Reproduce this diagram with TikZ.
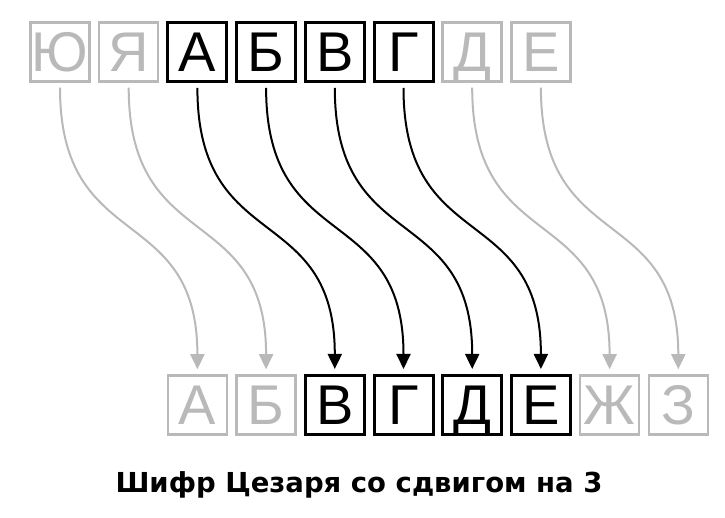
\documentclass[tikz,border=0pt]{standalone}
\usepackage{fontspec}
\newfontfamily\letterfont{Liberation Sans}
\newfontfamily\titlefont{DejaVu Sans}
\usetikzlibrary{arrows.meta}
\definecolor{fadegray}{RGB}{185,185,185}

\begin{document}
\begin{tikzpicture}[x=1pt, y=1pt, >={Triangle[length=15pt, width=14pt]},
		box/.style={draw, line width=3pt, minimum size=59pt, inner sep=0pt, text height=40pt, text depth=0pt, font=\letterfont\fontsize{56}{56}\selectfont},
		keybox/.style={box, draw=black, text=black},
		fadebox/.style={box, draw=fadegray, text=fadegray, line width=2.5pt},
		keyshift/.style={->, line width=2pt, black},
		fadeshift/.style={->, line width=2pt, fadegray}]
	\useasboundingbox (0,0) rectangle (725,518);
	
	% 1. 原字母表 (上排)
	\node[fadebox] (t-yu) at (60, 466) {Ю};
	\node[fadebox] (t-ya) at (128.7, 466) {Я};
	\node[keybox] (t-a) at (197.4, 466) {А};
	\node[keybox] (t-b) at (266.1, 466) {Б};
	\node[keybox] (t-v) at (334.8, 466) {В};
	\node[keybox] (t-g) at (403.5, 466) {Г};
	\node[fadebox] (t-d) at (472.2, 466) {Д};
	\node[fadebox] (t-e) at (540.9, 466) {Е};
	
	% 2. 移位后的字母表 (下排)
	\node[fadebox] (b-a) at (197.4, 113) {А};
	\node[fadebox] (b-b) at (266.1, 113) {Б};
	\node[keybox] (b-v) at (334.8, 113) {В};
	\node[keybox] (b-g) at (403.5, 113) {Г};
	\node[keybox] (b-d) at (472.2, 113) {Д};
	\node[keybox] (b-e) at (540.9, 113) {Е};
	\node[fadebox] (b-zh) at (609.6, 113) {Ж};
	\node[fadebox] (b-z) at (678.3, 113) {З};
	
	% 3. 对应关系箭头
	\draw[fadeshift] ([yshift=-5pt]t-yu.south) .. controls +(0,-168) and +(0,168) .. ([yshift=5pt]b-a.north);
	\draw[fadeshift] ([yshift=-5pt]t-ya.south) .. controls +(0,-168) and +(0,168) .. ([yshift=5pt]b-b.north);
	\draw[keyshift] ([yshift=-5pt]t-a.south) .. controls +(0,-168) and +(0,168) .. ([yshift=5pt]b-v.north);
	\draw[keyshift] ([yshift=-5pt]t-b.south) .. controls +(0,-168) and +(0,168) .. ([yshift=5pt]b-g.north);
	\draw[keyshift] ([yshift=-5pt]t-v.south) .. controls +(0,-168) and +(0,168) .. ([yshift=5pt]b-d.north);
	\draw[keyshift] ([yshift=-5pt]t-g.south) .. controls +(0,-168) and +(0,168) .. ([yshift=5pt]b-e.north);
	\draw[fadeshift] ([yshift=-5pt]t-d.south) .. controls +(0,-168) and +(0,168) .. ([yshift=5pt]b-zh.north);
	\draw[fadeshift] ([yshift=-5pt]t-e.south) .. controls +(0,-168) and +(0,168) .. ([yshift=5pt]b-z.north);
	
	% 4. 标题
	\node[anchor=base, font=\titlefont\bfseries\fontsize{27.5}{27.5}\selectfont] (title) at (359, 25) {Шифр Цезаря со сдвигом на 3};
\end{tikzpicture}
\end{document}
